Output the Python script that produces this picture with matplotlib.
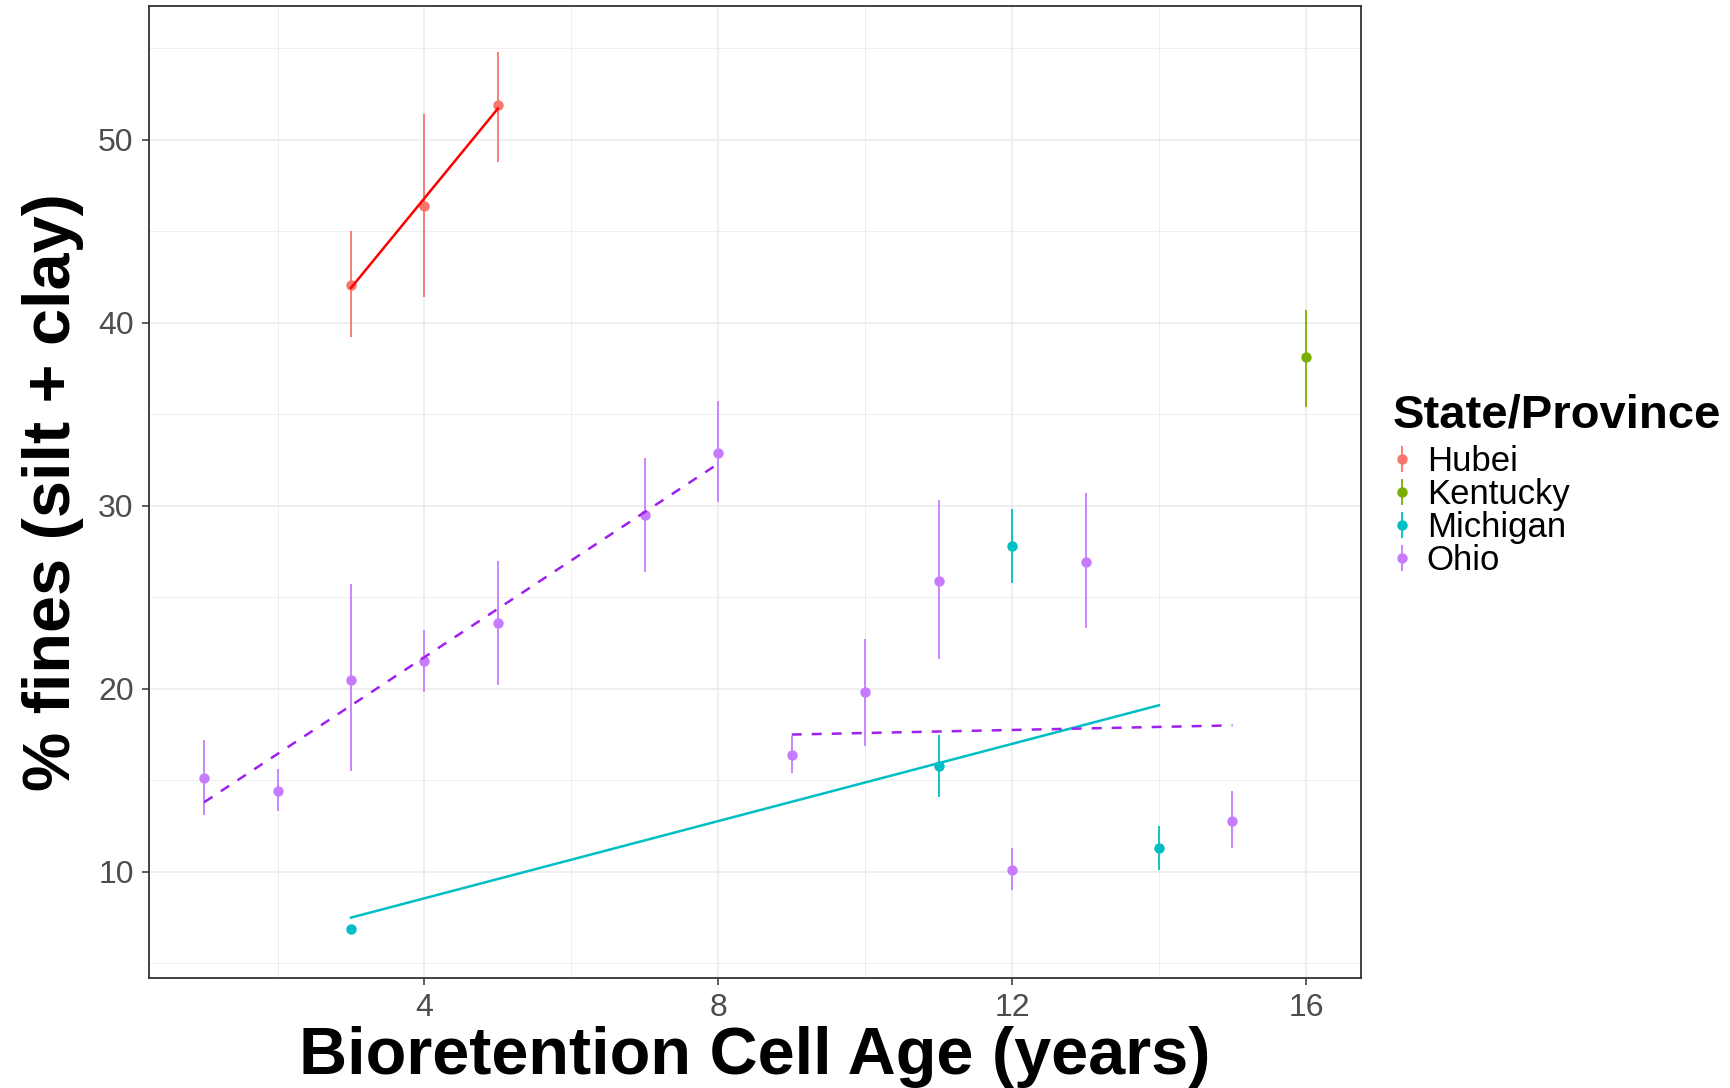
import matplotlib
matplotlib.use("Agg")
import matplotlib.pyplot as plt
from matplotlib.lines import Line2D
from matplotlib.legend_handler import HandlerTuple
import numpy as np

plt.rcParams['font.family'] = ['Liberation Sans', 'DejaVu Sans']

states = ['Hubei', 'Kentucky', 'Michigan', 'Ohio']
point_colors = ['#F8766D', '#7CAE00', '#00BFC4', '#C77CFF']

# mean and error bar limits, per state
hubei_age = [3, 4, 5]
hubei_mean = [42.05, 46.4, 51.9]
hubei_lo = [39.2, 41.4, 48.8]
hubei_hi = [45.0, 51.4, 54.8]

kentucky_age = [16]
kentucky_mean = [38.1]
kentucky_lo = [35.4]
kentucky_hi = [40.7]

michigan_age = [3, 11, 12, 14]
michigan_mean = [6.9, 15.8, 27.8, 11.3]
michigan_lo = [6.9, 14.1, 25.8, 10.1]
michigan_hi = [6.9, 17.5, 29.8, 12.5]

ohio_age = [1, 2, 3, 4, 5, 7, 8, 9, 10, 11, 12, 13, 15]
ohio_mean = [15.1, 14.4, 20.5, 21.5, 23.6, 29.5, 32.9, 16.4, 19.8, 25.9, 10.1, 26.9, 12.8]
ohio_lo = [13.1, 13.3, 15.5, 19.8, 20.2, 26.4, 30.2, 15.4, 16.9, 21.6, 9.0, 23.3, 11.3]
ohio_hi = [17.2, 15.6, 25.7, 23.2, 27.0, 32.6, 35.7, 17.4, 22.7, 30.3, 11.3, 30.7, 14.4]

# fitted trend lines (end points)
hubei_fit_x = [3, 5]
hubei_fit_y = [41.9, 51.7]
michigan_fit_x = [3, 14]
michigan_fit_y = [7.5, 19.1]
ohio_fit1_x = [1, 8]
ohio_fit1_y = [13.8, 32.3]
ohio_fit2_x = [9, 15]
ohio_fit2_y = [17.5, 18.0]

x_ticks = [4, 8, 12, 16]
y_ticks = [10, 20, 30, 40, 50]

fig = plt.figure(figsize=(17.31, 10.88), dpi=100)
ax = fig.add_axes([149/1731, 1 - 978/1088, (1361-149)/1731, (978-6)/1088])

groups = [
    (hubei_age, hubei_mean, hubei_lo, hubei_hi),
    (kentucky_age, kentucky_mean, kentucky_lo, kentucky_hi),
    (michigan_age, michigan_mean, michigan_lo, michigan_hi),
    (ohio_age, ohio_mean, ohio_lo, ohio_hi),
]
for (xa, m, lo, hi), c in zip(groups, point_colors):
    ax.vlines(xa, lo, hi, color=c, lw=1.3, zorder=3)
    ax.plot(xa, m, 'o', color=c, ms=7.5, mec='none', zorder=4)

ax.plot(hubei_fit_x, hubei_fit_y, color='#FF0000', lw=1.8, zorder=5)
ax.plot(michigan_fit_x, michigan_fit_y, color='#00BFC4', lw=1.8, zorder=5)
ax.plot(ohio_fit1_x, ohio_fit1_y, color='#A020F0', lw=1.8, dashes=(4, 4), zorder=5)
ax.plot(ohio_fit2_x, ohio_fit2_y, color='#A020F0', lw=1.8, dashes=(4, 4), zorder=5)

ax.set_xlim(0.25, 16.75)
ax.set_ylim(4.2, 57.3)
ax.set_xticks(x_ticks)
ax.set_yticks(y_ticks)
ax.set_xticks([2, 6, 10, 14], minor=True)
ax.set_yticks([5, 15, 25, 35, 45, 55], minor=True)
ax.grid(which='major', color='#EBEBEB', lw=1.1)
ax.grid(which='minor', color='#EBEBEB', lw=0.6)
ax.set_axisbelow(True)
ax.tick_params(which='major', labelsize=23, labelcolor='#4D4D4D', color='#333333',
               length=5, width=1.1, pad=6)
ax.tick_params(which='minor', length=0)
for s in ax.spines.values():
    s.set_color('#333333')
    s.set_linewidth(1.3)

ax.set_xlabel('Bioretention Cell Age (years)', fontsize=48, fontweight='bold', labelpad=2)
ax.set_ylabel('% fines (silt + clay)', fontsize=48, fontweight='bold', labelpad=10)

# legend: title as separate text so the gap matches
fig.text(1393/1731, 1 - 428/1088, 'State/Province', fontsize=34, fontweight='bold',
         ha='left', va='baseline')
handles = []
for c in point_colors:
    bar = Line2D([], [], color=c, marker='|', ms=19, mew=1.3, ls='None')
    dot = Line2D([], [], color=c, marker='o', ms=7.5, mec='none', ls='None')
    handles.append((bar, dot))
leg = ax.legend(handles, states, handler_map={tuple: HandlerTuple(ndivide=1, pad=0)},
                loc='upper left', bbox_to_anchor=(1392/1731, 1 - 445/1088),
                bbox_transform=fig.transFigure, frameon=False,
                fontsize=25, handlelength=0.6, handletextpad=0.4,
                labelspacing=0.0, borderpad=0, borderaxespad=0)

fig.savefig('out.png', dpi=100)
